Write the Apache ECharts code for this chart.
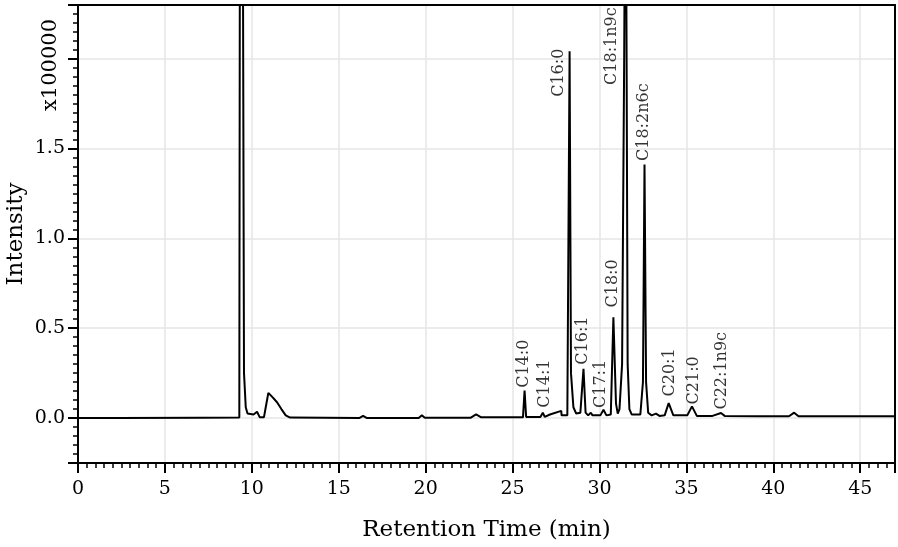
<!DOCTYPE html>
<html>
<head>
<meta charset="utf-8">
<title>Chromatogram</title>
<script src="https://cdn.jsdelivr.net/npm/echarts@6/dist/echarts.min.js"></script>
<style>
  html, body { margin: 0; padding: 0; background: #fff; }
  #chart { width: 898px; height: 547px; }
</style>
</head>
<body>
<div id="chart"></div>
<script>
  // retention time (min) and intensity (x100000)
  var retentionTimes = [
    0, 2.3, 7.0, 9.28, 9.31, 9.40, 9.49, 9.55, 9.65, 9.75,
    10.1, 10.3, 10.45, 10.7, 10.8, 10.95, 11.2, 11.45, 11.7, 11.95,
    12.2, 16.2, 16.4, 16.6, 19.6, 19.78, 19.95, 22.6, 22.9, 23.2,
    25.6, 25.69, 25.78, 26.6, 26.74, 26.85, 26.95, 27.15, 27.8, 27.82,
    28.15, 28.28, 28.36, 28.5, 28.66, 28.9, 29.08, 29.2, 29.35, 29.5,
    29.6, 30.05, 30.23, 30.4, 30.65, 30.8, 30.95, 31.05, 31.15, 31.3,
    31.42, 31.5, 31.56, 31.62, 31.72, 31.85, 32.35, 32.5, 32.59, 32.68,
    32.8, 33.0, 33.25, 33.45, 33.75, 33.98, 34.25, 35.05, 35.32, 35.6,
    36.5, 36.99, 37.2, 39.2, 40.9, 41.2, 41.45, 47
  ];
  var intensities = [
    0, 0, 0.002, 0.003, 2.5, 3.5, 2.5, 0.25, 0.06, 0.025,
    0.02, 0.035, 0.005, 0.005, 0.06, 0.14, 0.115, 0.088, 0.05, 0.015,
    0.003, 0.001, 0.012, 0.001, 0.001, 0.016, 0.002, 0.002, 0.02, 0.004,
    0.005, 0.153, 0.006, 0.006, 0.03, 0.007, 0.008, 0.02, 0.04, 0.015,
    0.015, 2.04, 0.25, 0.06, 0.025, 0.03, 0.274, 0.03, 0.015, 0.03,
    0.015, 0.015, 0.046, 0.015, 0.02, 0.561, 0.08, 0.025, 0.05, 0.3,
    2.0, 3.5, 2.0, 0.3, 0.05, 0.02, 0.02, 0.2, 1.41, 0.2,
    0.03, 0.015, 0.025, 0.012, 0.015, 0.083, 0.015, 0.015, 0.065, 0.012,
    0.012, 0.028, 0.012, 0.01, 0.01, 0.03, 0.01, 0.01
  ];

  // peak annotations: name, label centre (time, intensity)
  var peakNames = ['C14:0', 'C14:1', 'C16:0', 'C16:1', 'C17:1', 'C18:0',
    'C18:1n9c', 'C18:2n6c', 'C20:1', 'C21:0', 'C22:1n9c'];
  var labelTimes = [25.65, 26.84, 27.66, 29.02, 30.08, 30.75, 30.72, 32.57, 34.05, 35.41, 37.05];
  var labelLevels = [0.302, 0.192, 1.921, 0.431, 0.19, 0.749, 2.069, 1.646, 0.254, 0.21, 0.263];

  var serif = 'DejaVu Serif';

  var trace = retentionTimes.map(function (t, i) { return [t, intensities[i]]; });
  var labels = peakNames.map(function (n, i) { return { name: n, value: [labelTimes[i], labelLevels[i]] }; });

  var chart = echarts.init(document.getElementById('chart'));

  // shared look of the black axes
  var blackLine = { color: '#000', width: 2 };
  var grayGrid = { show: true, lineStyle: { color: '#e6e6e6', width: 1.5 } };

  var option = {
    animation: false,
    backgroundColor: '#fff',
    grid: { left: 78, right: 3, top: 5, bottom: 84, containLabel: false, outerBoundsMode: 'none' },
    xAxis: [{
      type: 'value',
      min: 0, max: 47,
      minInterval: 5, maxInterval: 5,
      name: 'Retention Time (min)',
      nameLocation: 'middle',
      nameGap: 56,
      nameTextStyle: { fontFamily: serif, fontSize: 23, color: '#000' },
      axisLine: { onZero: false, lineStyle: blackLine },
      axisTick: { length: 10, lineStyle: blackLine },
      minorTick: { show: true, splitNumber: 10, length: 5, lineStyle: { color: '#000', width: 1.5 } },
      axisLabel: {
        fontFamily: serif, fontSize: 19, color: '#000', margin: 17,
        showMaxLabel: false,
        formatter: function (v) { return v % 5 === 0 ? String(v) : ''; }
      },
      splitLine: grayGrid
    }, {
      // top frame line
      type: 'value', position: 'top', min: 0, max: 47,
      axisLine: { show: true, onZero: false, lineStyle: blackLine },
      axisTick: { show: false }, axisLabel: { show: false }, splitLine: { show: false }
    }],
    yAxis: [{
      type: 'value',
      min: -0.25, max: 2.298,
      minInterval: 0.5, maxInterval: 0.5,
      name: 'Intensity',
      nameLocation: 'middle',
      nameGap: 50,
      nameMoveOverlap: false,
      nameTextStyle: { fontFamily: serif, fontSize: 23, color: '#000' },
      axisLine: { show: true, onZero: false, lineStyle: blackLine },
      axisTick: { show: true, length: 10, lineStyle: blackLine },
      minorTick: { show: true, splitNumber: 10, length: 5, lineStyle: { color: '#000', width: 1.5 } },
      axisLabel: {
        fontFamily: serif, fontSize: 19, color: '#000', margin: 13,
        showMinLabel: false, showMaxLabel: false,
        formatter: function (v) {
          var k = Math.round(v * 2);
          // 2.0 is replaced by the multiplier text
          if (Math.abs(v * 2 - k) > 1e-6 || k < 0 || k > 3) return '';
          return v.toFixed(1);
        }
      },
      splitLine: grayGrid
    }, {
      // right frame line
      type: 'value', position: 'right', min: -0.25, max: 2.298,
      axisLine: { show: true, onZero: false, lineStyle: blackLine },
      axisTick: { show: false }, axisLabel: { show: false }, splitLine: { show: false }
    }],
    graphic: [{
      type: 'text',
      x: 51, y: 65,
      rotation: Math.PI / 2,
      style: {
        text: 'x100000',
        fontFamily: serif, fontSize: 21, fill: '#000',
        align: 'center', verticalAlign: 'middle'
      }
    }],
    series: [
      {
        type: 'line',
        data: trace,
        symbol: 'none',
        clip: true,
        lineStyle: { color: '#000', width: 2 },
        z: 3
      },
      {
        type: 'scatter',
        data: labels,
        symbolSize: 0,
        silent: true,
        label: {
          show: true,
          position: 'inside',
          rotate: 90,
          formatter: '{b}',
          fontFamily: serif, fontSize: 16, color: '#000'
        },
        z: 4
      }
    ]
  };

  chart.setOption(option);
</script>
</body>
</html>
